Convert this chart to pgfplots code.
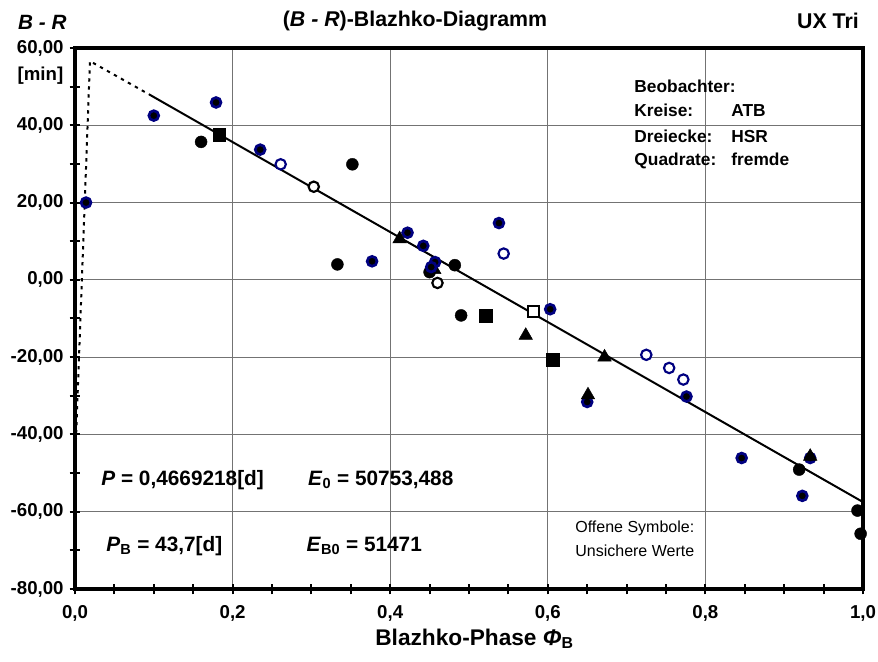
\documentclass[border=0pt]{standalone}
\usepackage{fontspec}
\setmainfont{Liberation Sans}
\usepackage{pgfplots}
\pgfplotsset{compat=1.18}
\definecolor{navy}{RGB}{0,0,128}
\newcommand{\fs}[1]{\fontsize{#1}{#1}\selectfont}

\begin{document}
\begin{tikzpicture}
% 1px = 0.75pt, axis box 788 x 541 px
\useasboundingbox (-56.25pt,-54pt) rectangle (602.25pt,441.75pt);
\begin{axis}[
    scale only axis,
    width=591pt, height=405.75pt,
    xmin=0, xmax=1, ymin=-80, ymax=60,
    xtick={0,0.2,0.4,0.6,0.8,1},
    xticklabels={{0,0},{0,2},{0,4},{0,6},{0,8},{1,0}},
    ytick={-80,-60,-40,-20,0,20,40,60},
    yticklabels={{-80,00},{-60,00},{-40,00},{-20,00},{0,00},{20,00},{40,00},{60,00}},
    minor xtick={0.05,0.1,0.15,0.25,0.3,0.35,0.45,0.5,0.55,0.65,0.7,0.75,0.85,0.9,0.95},
    minor ytick={-70,-50,-30,-10,10,30,50},
    tick pos=left,
    tick align=center,
    major tick length=8pt, minor tick length=8pt,
    tick style={black, line width=1.5pt},
    xmajorgrids, ymajorgrids,
    major grid style={black!55, line width=0.75pt},
    axis line style={line width=3.5pt},
    tick label style={font=\fs{14}\bfseries},
    xticklabel style={yshift=-5pt},
    yticklabel style={xshift=-1pt},
    clip=false,
]
% Ausgleichsgerade
\addplot[black, line width=1.5pt] coordinates {(0.094,48.0) (1.0,-57.5)};
\addplot[black, line width=1.5pt, dash pattern=on 2.5pt off 3.5pt] coordinates {(0.0,-48) (0.019,56.6) (0.094,48.0)};

% schwarze Kreise
\addplot[only marks, mark=*, mark size=4.5pt, mark options={fill=black, draw=black, line width=0.3pt}] coordinates {
 (0.160,35.7) (0.352,29.9) (0.333,4.0) (0.450,2.0) (0.482,3.8) (0.490,-9.2)
 (0.919,-49.1) (0.993,-59.7) (0.997,-65.7)
};
% Dreiecke (verdeckt)
\addplot[only marks, mark=triangle*, mark size=5.8pt, mark options={fill=black, draw=black}] coordinates {
 (0.456,2.6)
};
% Kreise mit blauem Rand
\addplot[only marks, mark=*, mark size=3.7pt, mark options={fill=black, draw=navy, line width=2pt}] coordinates {
 (0.014,20.0) (0.100,42.5) (0.179,45.9) (0.235,33.7) (0.377,4.8) (0.422,12.2)
 (0.442,8.8) (0.457,4.6) (0.452,3.3) (0.538,14.7) (0.603,-7.6) (0.776,-30.2)
 (0.650,-31.6) (0.846,-46.1) (0.933,-46.1) (0.923,-55.9)
};
% offene blaue Kreise
\addplot[only marks, mark=*, mark size=3.9pt, mark options={fill=white, draw=navy, line width=1.6pt}] coordinates {
 (0.261,29.9) (0.544,6.8) (0.725,-19.4) (0.754,-22.8) (0.772,-25.8)
};
% offene schwarze Kreise
\addplot[only marks, mark=*, mark size=3.9pt, mark options={fill=white, draw=black, line width=1.6pt}] coordinates {
 (0.303,24.1) (0.460,-0.8)
};
% Quadrate
\addplot[only marks, mark=square*, mark size=4.8pt, mark options={fill=black, draw=black}] coordinates {
 (0.183,37.5) (0.521,-9.2) (0.606,-20.6)
};
\addplot[only marks, mark=square*, mark size=4.2pt, mark options={fill=white, draw=black, line width=1.5pt}] coordinates {
 (0.582,-8.1)
};
% Dreiecke
\addplot[only marks, mark=triangle*, mark size=5.8pt, mark options={fill=black, draw=black}] coordinates {
 (0.412,10.6) (0.572,-14.4) (0.672,-20.0) (0.651,-29.8) (0.933,-45.7)
};

% Beschriftungen
\node[anchor=west, font=\fs{15.5}\bfseries\itshape] at (axis cs:-0.078,66.7) {B - R};
\node[font=\fs{14}\bfseries] at (axis cs:-0.0438,52.75) {[min]};
\node[font=\fs{16}\bfseries] at (axis cs:0.4315,67.0) {(\textit{B - R})-Blazhko-Diagramm};
\node[font=\fs{16}\bfseries] at (axis cs:0.9556,67.0) {UX Tri};
\node[anchor=base, font=\fs{17}\bfseries] at (axis cs:0.507,-94.5) {Blazhko-Phase \textit{Φ}\textsubscript{B}};

\node[anchor=base west, font=\fs{15.6}\bfseries] at (axis cs:0.0275,-53.1) {\textit{P} = 0,4669218[d]};
\node[anchor=base west, font=\fs{15.6}\bfseries] at (axis cs:0.290,-53.1) {\textit{E}\textsubscript{0} = 50753,488};
\node[anchor=base west, font=\fs{15.6}\bfseries] at (axis cs:0.0339,-70.2) {\textit{P}\textsubscript{B} = 43,7[d]};
\node[anchor=base west, font=\fs{15.6}\bfseries] at (axis cs:0.2880,-70.2) {\textit{E}\textsubscript{B0} = 51471};

\node[anchor=base west, font=\fs{13}\bfseries] at (axis cs:0.704,48.4) {Beobachter:};
\node[anchor=base west, font=\fs{13}\bfseries] at (axis cs:0.704,42.2) {Kreise:};
\node[anchor=base west, font=\fs{13}\bfseries] at (axis cs:0.704,35.5) {Dreiecke:};
\node[anchor=base west, font=\fs{13}\bfseries] at (axis cs:0.704,29.5) {Quadrate:};
\node[anchor=base west, font=\fs{13}\bfseries] at (axis cs:0.827,42.2) {ATB};
\node[anchor=base west, font=\fs{13}\bfseries] at (axis cs:0.827,35.5) {HSR};
\node[anchor=base west, font=\fs{13}\bfseries] at (axis cs:0.827,29.5) {fremde};

\node[anchor=base west, font=\fs{12}] at (axis cs:0.629,-65.3) {Offene Symbole:};
\node[anchor=base west, font=\fs{12}] at (axis cs:0.629,-71.5) {Unsichere Werte};
\end{axis}
\end{tikzpicture}
\end{document}
